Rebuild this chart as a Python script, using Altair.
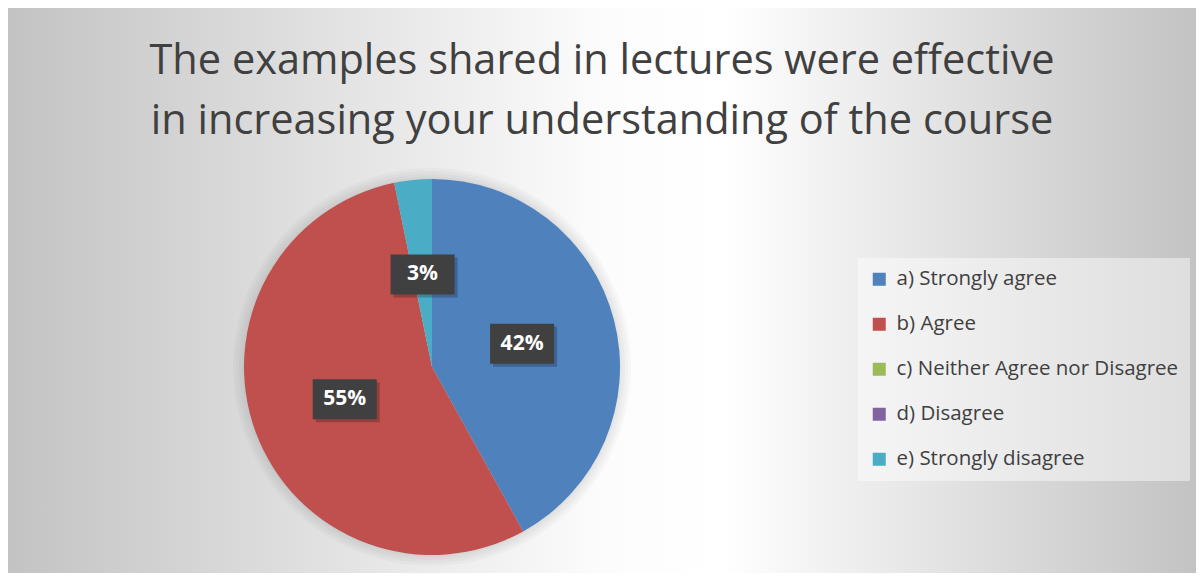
import math
import altair as alt
import pandas as pd

# ---- data ----
categories = [
    "a) Strongly agree",
    "b) Agree",
    "c) Neither Agree nor Disagree",
    "d) Disagree",
    "e) Strongly disagree",
]
counts = [13, 17, 0, 0, 1]
colors = ["#4f81bd", "#c0504d", "#9bbb59", "#8064a2", "#4bacc6"]
title_lines = [
    "The examples shared in lectures were effective",
    "in increasing your understanding of the course",
]

df = pd.DataFrame({"category": categories, "count": counts, "order": list(range(len(categories)))})

# ---- layout ----
TOTAL_W, TOTAL_H = 1188, 565
TITLE_H = 138
W, H = TOTAL_W, TOTAL_H - TITLE_H
CX, CY, R = 424, 221, 188
LABEL_F = 0.495
FONT = "Open Sans"
TEXT_COLOR = "#404040"

xs = alt.Scale(domain=[-1, 1], range=[CX - R, CX + R])
ys = alt.Scale(domain=[-1, 1], range=[CY - R, CY + R])

bg_fill = {
    "gradient": "linear",
    "x1": 0, "y1": 0, "x2": 1, "y2": 0,
    "stops": [
        {"offset": 0, "color": "#c3c3c3"},
        {"offset": 0.5, "color": "#fcfcfc"},
        {"offset": 0.6, "color": "#ffffff"},
        {"offset": 1, "color": "#c3c3c3"},
    ],
}

one = pd.DataFrame({"k": [0]})

background = alt.Chart(one).mark_rect(fill=bg_fill).encode(
    x=alt.value(0), x2=alt.value(W), y=alt.value(-TITLE_H), y2=alt.value(H)
)

shadows = [
    alt.Chart(one).mark_arc(theta=0, theta2=2 * math.pi, radius=R + d, color="#000000", opacity=0.025).encode(
        x=alt.X(datum=0, type="quantitative", scale=xs, axis=None),
        y=alt.Y(datum=0, type="quantitative", scale=ys, axis=None),
    )
    for d in (2, 5, 8, 11)
]

color_scale = alt.Scale(domain=categories, range=colors)

pie = alt.Chart(df).mark_arc(radius=R).encode(
    theta=alt.Theta("count:Q", stack=True),
    order=alt.Order("order:Q"),
    color=alt.Color(
        "category:N",
        scale=color_scale,
        sort=categories,
        legend=alt.Legend(
            title=None,
            orient="none",
            legendX=850,
            legendY=112,
            fillColor="rgba(255,255,255,0.45)",
            padding=11,
            labelFont=FONT,
            labelFontSize=20.5,
            labelColor=TEXT_COLOR,
            symbolType="square",
            symbolSize=169,
            symbolStrokeWidth=0,
            rowPadding=24,
            labelLimit=400,
            labelOffset=7,
        ),
    ),
    x=alt.X(datum=0, type="quantitative", scale=xs, axis=None),
    y=alt.Y(datum=0, type="quantitative", scale=ys, axis=None),
)

labels_base = (
    alt.Chart(df)
    .transform_joinaggregate(total="sum(count)")
    .transform_window(cum="sum(count)", sort=[alt.SortField("order")], frame=[None, 0])
    .transform_filter("datum.count > 0")
    .transform_calculate(
        mid="(datum.cum - datum.count / 2) / datum.total * 2 * PI",
        pct="format(datum.count / datum.total, '.0%')",
    )
    .transform_calculate(
        lx=f"{LABEL_F} * sin(datum.mid)",
        ly=f"-{LABEL_F} * cos(datum.mid)",
    )
)

pos = dict(
    x=alt.X("lx:Q", scale=xs, axis=None),
    y=alt.Y("ly:Q", scale=ys, axis=None),
)

box_shape = "M-1.6,-1L1.6,-1L1.6,1L-1.6,1Z"

box_shadow = labels_base.mark_point(
    shape=box_shape, filled=True, size=1600, color="#000000", opacity=0.22, xOffset=3, yOffset=3
).encode(**pos)

boxes = labels_base.mark_point(
    shape=box_shape, filled=True, size=1600, color="#404040", opacity=1
).encode(**pos)

texts = labels_base.mark_text(
    font=FONT, fontSize=21, fontWeight="bold", color="#ffffff", baseline="middle", align="center"
).encode(text="pct:N", **pos)

chart = (
    alt.layer(background, *shadows, pie, box_shadow, boxes, texts)
    .properties(
        width=W,
        height=H,
        padding=0,
        title=alt.TitleParams(
            text=title_lines,
            font=FONT,
            fontSize=41.5,
            fontWeight="normal",
            color=TEXT_COLOR,
            lineHeight=60,
            anchor="middle",
            frame="group",
            offset=4 - TITLE_H,
        ),
    )
    .configure_view(stroke=None)
    .configure(background="#c6d9f1")
)

chart.save("out.html", embed_options={"renderer": "svg", "actions": False})
